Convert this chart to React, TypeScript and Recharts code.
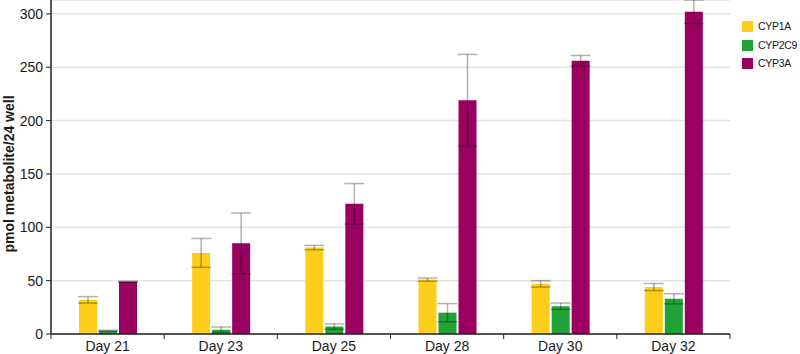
import { BarChart, Bar, XAxis, YAxis, CartesianGrid, ErrorBar } from 'recharts';

const days = ['Day 21', 'Day 23', 'Day 25', 'Day 28', 'Day 30', 'Day 32'];
const seriesNames = ['CYP1A', 'CYP2C9', 'CYP3A'];
const COLORS = ['#fecf1a', '#22a33a', '#990060'];

const cyp1a = [32, 76, 81, 51, 47, 44];
const cyp1aErr = [3, 13.5, 2, 1.5, 3, 3.3];
const cyp2c9 = [3, 4, 7, 20, 26, 33];
const cyp2c9Err = [0.5, 2.5, 2.5, 8.5, 3, 4.7];
const cyp3a = [49, 85, 122, 219, 256, 302];
const cyp3aErr = [0.5, 28.5, 19, 43, 5, 11];

const yTicks = [0, 50, 100, 150, 200, 250, 300];

const data = days.map((day, i) => ({
  day,
  CYP1A: cyp1a[i],
  CYP1A_err: cyp1aErr[i],
  CYP2C9: cyp2c9[i],
  CYP2C9_err: cyp2c9Err[i],
  CYP3A: cyp3a[i],
  CYP3A_err: cyp3aErr[i],
}));

const FONT = '"Liberation Sans", Arial, Helvetica, sans-serif';
const HALF_BAND = (730 - 51) / days.length / 2;

// category labels in the middle, tick marks on the borders between groups
const DayTick = (props: any) => {
  const { x, y, payload, index } = props;
  const axisY = y - 7;
  return (
    <g>
      <line x1={x - HALF_BAND} y1={axisY} x2={x - HALF_BAND} y2={axisY + 5} stroke="#222" strokeWidth={1} />
      {index === days.length - 1 && (
        <line x1={x + HALF_BAND} y1={axisY} x2={x + HALF_BAND} y2={axisY + 5} stroke="#222" strokeWidth={1} />
      )}
      <text x={x} y={y} dy="0.71em" textAnchor="middle" fill="#1a1a1a" fontSize={14} fontFamily={FONT}>
        {payload.value}
      </text>
    </g>
  );
};

const YLabel = () => (
  <text
    x={9}
    y={174}
    transform="rotate(-90, 9, 174)"
    textAnchor="middle"
    dominantBaseline="central"
    fontSize={14}
    fontWeight="bold"
    fill="#1a1a1a"
    fontFamily={FONT}
  >
    pmol metabolite/24 well
  </text>
);

export default function App() {
  return (
    <div style={{ position: 'absolute', left: 0, top: 0, width: 800, height: 354, fontFamily: FONT }}>
      <BarChart
        width={800}
        height={354}
        data={data}
        margin={{ top: 0, right: 70, bottom: 0, left: 0 }}
        barSize={18}
        barGap={2}
      >
        <CartesianGrid vertical={false} stroke="#e4e4e4" strokeWidth={1.5} />
        <XAxis
          dataKey="day"
          height={20}
          tickSize={5}
          tickMargin={2}
          tickLine={false}
          axisLine={{ stroke: '#222', strokeWidth: 1.5 }}
          tick={<DayTick />}
          interval={0}
        />
        <YAxis
          width={51}
          domain={[0, 313]}
          ticks={yTicks}
          tickSize={5}
          tickMargin={3}
          axisLine={{ stroke: '#222', strokeWidth: 1.5 }}
          tickLine={{ stroke: '#222' }}
          tick={{ fill: '#1a1a1a', fontSize: 14, fontFamily: FONT }}
          allowDataOverflow
        />
        <YLabel />
        {seriesNames.map((name, i) => (
          <Bar key={name} dataKey={name} fill={COLORS[i]} isAnimationActive={false}>
            <ErrorBar
              dataKey={`${name}_err`}
              width={10}
              stroke="#000"
              strokeOpacity={0.3}
              strokeWidth={1.5}
              isAnimationActive={false}
            />
          </Bar>
        ))}
      </BarChart>
      <div style={{ position: 'absolute', left: 742, top: 17 }}>
        {seriesNames.map((name, i) => (
          <div key={name} style={{ display: 'flex', alignItems: 'center', height: 18.7, whiteSpace: 'nowrap' }}>
            <div style={{ width: 11, height: 11, background: COLORS[i], marginRight: 5, flexShrink: 0 }} />
            <span style={{ fontSize: 10.5, letterSpacing: -0.3, color: '#1a1a1a', lineHeight: '11px' }}>{name}</span>
          </div>
        ))}
      </div>
    </div>
  );
}
